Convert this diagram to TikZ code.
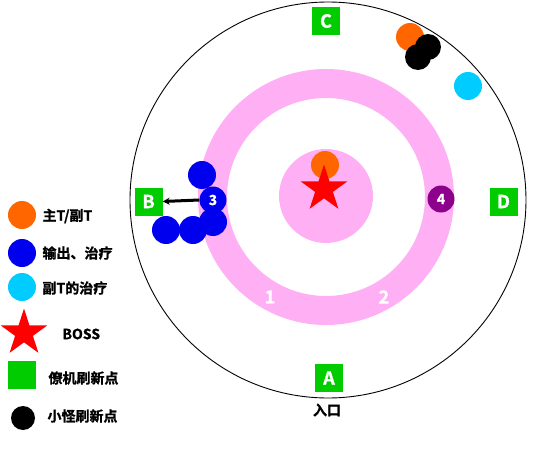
\documentclass[tikz,border=0pt]{standalone}
\usepackage{fontspec}
\setmainfont{Noto Sans CJK SC}[BoldFont={Noto Sans CJK SC Bold},BoldFeatures={FakeBold=1.2}]
\usetikzlibrary{shapes.geometric,arrows.meta}
\definecolor{pinkring}{RGB}{255,176,245}
\definecolor{orangeT}{RGB}{255,102,0}
\definecolor{blueD}{RGB}{0,0,238}
\definecolor{cyanH}{RGB}{0,204,255}
\definecolor{greenS}{RGB}{0,204,0}
\definecolor{purpleN}{RGB}{140,0,140}
\begin{document}
\begin{tikzpicture}[x=1pt,y=-1pt,
  dot/.style={circle,inner sep=0pt,minimum size=#1},
  dot/.default=28pt,
  spawn/.style={rectangle,fill=greenS,inner sep=0pt,minimum size=28pt,text=white,font=\bfseries\fontsize{18}{18}\selectfont},
  bossstar/.style={star,star points=5,star point ratio=2.618,fill=red,inner sep=0pt,minimum size=49pt},
  legtext/.style={anchor=west,font=\bfseries\fontsize{14}{14}\selectfont},
  numtext/.style={text=white,font=\bfseries\fontsize{14}{14}\selectfont},
  ringtext/.style={text=white,font=\bfseries\fontsize{18}{18}\selectfont}]
\useasboundingbox (0,0) rectangle (550,450);
\fill[white] (0,0) rectangle (550,450);
% arena
\draw[line width=0.9pt] (328,200) circle[radius=198];
\draw[pinkring,line width=29pt] (326,197) circle[radius=113.5];
\fill[pinkring] (326,196) circle[radius=47];
% ring labels
\node[ringtext] (l1) at (270,297) {1};
\node[ringtext] (l2) at (384,297) {2};
% spawn points
\node[spawn] (C) at (326,21) {C};
\node[spawn] (A) at (329,378) {A};
\node[spawn] (B) at (148.5,201.5) {B};
\node[spawn] (D) at (503.5,201.5) {D};
\node[font=\bfseries\fontsize{14}{14}\selectfont] (entry) at (327,410) {入口};
% boss
\node[dot,fill=orangeT] (tank) at (325,165) {};
\node[bossstar] (boss) at (324,189) {};
% top-right group
\node[dot,fill=orangeT] (tank2) at (410,37) {};
\node[dot=26pt,fill=black] (mob1) at (428,47) {};
\node[dot=26pt,fill=black] (mob2) at (418,57) {};
\node[dot,fill=cyanH] (heal) at (468,86) {};
% left group
\node[dot,fill=blueD] (d1) at (202,175) {};
\node[dot,fill=blueD] (d5) at (213,222) {};
\node[dot,fill=blueD] (d3) at (166,230) {};
\node[dot,fill=blueD] (d4) at (193,230) {};
\node[dot=27pt,fill=blueD,numtext] (n3) at (213,200) {3};
\draw[line width=3pt,-{Stealth[length=7pt,width=7pt]}] (n3.west) -- (B.east);
% point 4
\node[dot=27pt,fill=purpleN,numtext] (n4) at (441,199) {4};
% legend
\node[dot,fill=orangeT] (lg1) at (22,215) {};
\node[legtext] (lt1) at (39,216) {主T/副T};
\node[dot,fill=blueD] (lg2) at (22,253) {};
\node[legtext] (lt2) at (39,253) {输出、治疗};
\node[dot,fill=cyanH] (lg3) at (22,287) {};
\node[legtext] (lt3) at (39,288) {副T的治疗};
\node[bossstar] (lg4) at (24,333) {};
\node[legtext] (lt4) at (59,334) {BOSS};
\node[spawn] (lg5) at (21.5,375) {};
\node[legtext] (lt5) at (45,378) {僚机刷新点};
\node[dot=24pt,fill=black] (lg6) at (23,418) {};
\node[legtext] (lt6) at (44,416) {小怪刷新点};
\end{tikzpicture}
\end{document}
